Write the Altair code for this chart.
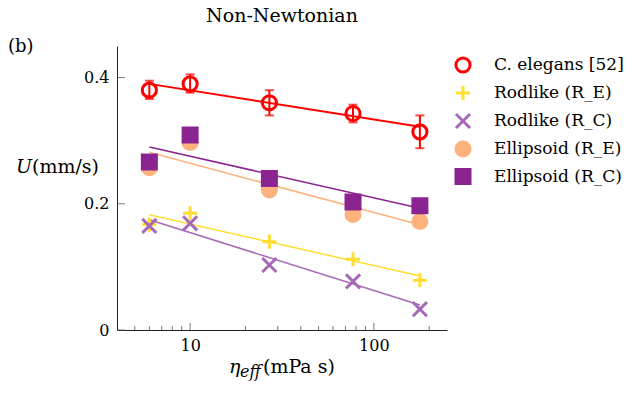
import altair as alt
import pandas as pd

# ---- data ----
series = ["C. elegans [52]", "Rodlike (R_E)", "Rodlike (R_C)", "Ellipsoid (R_E)", "Ellipsoid (R_C)"]
eta = [6, 10, 27, 77, 178]
u_elegans = [0.380, 0.390, 0.360, 0.343, 0.314]
u_elegans_lo = [0.366, 0.376, 0.340, 0.329, 0.288]
u_elegans_hi = [0.395, 0.405, 0.380, 0.357, 0.340]
u_rod_e = [0.167, 0.185, 0.140, 0.112, 0.079]
u_rod_c = [0.165, 0.169, 0.103, 0.077, 0.033]
u_ell_e = [0.257, 0.297, 0.222, 0.183, 0.172]
u_ell_c = [0.266, 0.309, 0.240, 0.203, 0.197]

fit_x = [6, 178]
fit_elegans = [0.390, 0.322]
fit_rod_e = [0.1825, 0.0857]
fit_rod_c = [0.1746, 0.0397]
fit_ell_e = [0.2815, 0.1667]
fit_ell_c = [0.290, 0.193]

x_major = [10, 100]
x_minor = [5, 6, 7, 8, 9, 20, 30, 40, 50, 60, 70, 80, 90, 200]
y_ticks = [0, 0.2, 0.4]

# ---- styles ----
colors = ["#ff0000", "#ffdd33", "#a66ab6", "#fdb27d", "#8b2391"]
fills = ["transparent", "transparent", "transparent", "#fdb27d", "#8b2391"]
shapes = ["circle", "M-1,0L1,0M0,-1L0,1", "M-1,-1L1,1M-1,1L1,-1", "circle", "square"]
sizes = [200, 196, 130, 200, 216]
line_widths = [2, 1.5, 1.5, 1.5, 1.5]

W, H = 330, 284
FONT = "DejaVu Serif"

all_u = [u_elegans, u_rod_e, u_rod_c, u_ell_e, u_ell_c]
all_fit = [fit_elegans, fit_rod_e, fit_rod_c, fit_ell_e, fit_ell_c]

pts = pd.DataFrame([
    {"series": s, "x": xv, "y": yv}
    for s, ys in zip(series, all_u) for xv, yv in zip(eta, ys)
])
err = pd.DataFrame({"x": eta, "lo": u_elegans_lo, "hi": u_elegans_hi})

xscale = alt.Scale(type="log", domain=[4, 250], nice=False)
yscale = alt.Scale(domain=[0, 0.45], nice=False, zero=False)
xaxis = alt.Axis(values=x_major, format="d", labelPadding=7)
yaxis = alt.Axis(values=y_ticks, format="~g", labelPadding=8)


def X(field):
    return alt.X(field, type="quantitative", scale=xscale, axis=xaxis, title=None)


def Y(field):
    return alt.Y(field, type="quantitative", scale=yscale, axis=yaxis, title=None)


layers = []

# fitted lines
for s, f, c, w in zip(series, all_fit, colors, line_widths):
    d = pd.DataFrame({"x": fit_x, "y": f})
    layers.append(alt.Chart(d).mark_line(color=c, strokeWidth=w).encode(x=X("x"), y=Y("y")))

# error bars
layers.append(
    alt.Chart(err).mark_errorbar(ticks=True, color="#ff0000", thickness=2, size=9).encode(
        x=X("x"), y=Y("lo"), y2="hi"
    )
)

# markers
legend = alt.Legend(
    title=None, orient="none", legendX=337, legendY=10, padding=0,
    labelFont=FONT, labelFontSize=17, labelColor="black", labelOffset=22,
    rowPadding=0, symbolStrokeWidth=3,
)
layers.append(
    alt.Chart(pts).mark_point(opacity=1, strokeWidth=3).encode(
        x=X("x"), y=Y("y"),
        fill=alt.Fill("series:N", scale=alt.Scale(domain=series, range=fills), legend=legend, sort=series),
        stroke=alt.Stroke("series:N", scale=alt.Scale(domain=series, range=colors), legend=legend, sort=series),
        shape=alt.Shape("series:N", scale=alt.Scale(domain=series, range=shapes), legend=legend, sort=series),
        size=alt.Size("series:N", scale=alt.Scale(domain=series, range=sizes), legend=legend, sort=series),
    )
)

# inward ticks
xt_major = pd.DataFrame({"t": x_major})
xt_minor = pd.DataFrame({"t": x_minor})
yt = pd.DataFrame({"t": y_ticks})
layers.append(alt.Chart(xt_major).mark_rule(color="#555", strokeWidth=0.8).encode(
    x=X("t"), y=alt.value(H), y2=alt.value(H - 7)))
layers.append(alt.Chart(xt_minor).mark_rule(color="#555", strokeWidth=0.8).encode(
    x=X("t"), y=alt.value(H), y2=alt.value(H - 4)))
layers.append(alt.Chart(yt).mark_rule(color="#555", strokeWidth=0.8).encode(
    y=Y("t"), x=alt.value(0), x2=alt.value(8)))

# texts (axis titles and panel label)
one = pd.DataFrame({"a": [0]})


def txt(text, x, y, size=17, style="normal", align="left"):
    return alt.Chart(one).mark_text(
        text=text, font=FONT, fontSize=size, fontStyle=style, align=align,
        baseline="alphabetic", color="black"
    ).encode(x=alt.value(x), y=alt.value(y))


layers.append(txt("(b)", -109, 6, size=18))
layers.append(txt("U", -85, 127, size=19, style="italic", align="right"))
layers.append(txt("(mm/s)", -85, 127, size=19, align="left"))
layers.append(txt("η", 112, 327, size=19, style="italic"))
layers.append(txt("eff", 123, 331, size=16, style="italic"))
layers.append(txt("(mPa s)", 146, 327, size=19))

chart = alt.layer(*layers).properties(
    width=W, height=H,
    autosize="none",
    padding={"left": 117, "top": 46, "right": 191, "bottom": 66},
    title=alt.TitleParams("Non-Newtonian", font=FONT, fontSize=19, fontWeight="normal",
                          anchor="middle", frame="group", offset=12, color="black"),
).configure_view(strokeWidth=0).configure_axis(
    grid=False, ticks=False, tickSize=0, domainColor="#222", domainWidth=1,
    labelFont=FONT, labelFontSize=16, labelColor="black",
)

chart.save("out.html", embed_options={"renderer": "svg", "actions": False})
